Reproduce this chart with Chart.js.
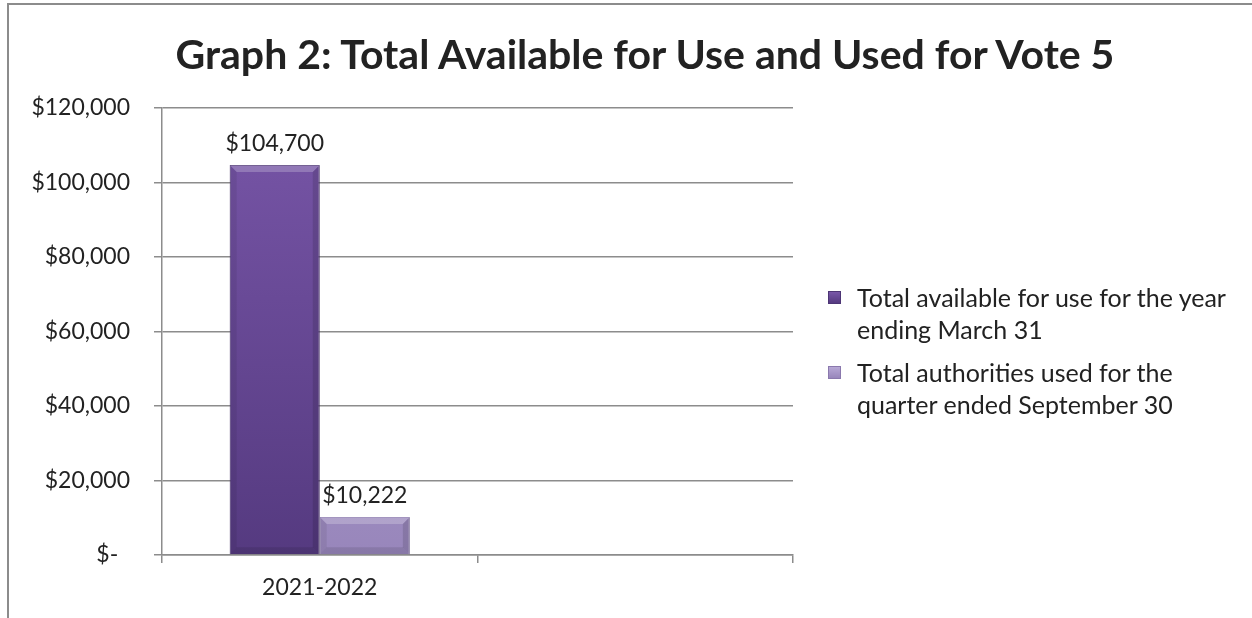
<!DOCTYPE html>
<html>
<head>
<meta charset="utf-8">
<script src="https://cdn.jsdelivr.net/npm/chart.js@4.4.0/dist/chart.umd.min.js"></script>
<style>
  html, body { margin: 0; padding: 0; background: #ffffff; }
  #wrap { position: relative; width: 1252px; height: 618px; overflow: hidden;
          font-family: Lato, "Open Sans", sans-serif; color: #222222; }
  #frame { position: absolute; left: 7px; top: 3px; right: -10px; bottom: -10px;
           border-left: 2px solid #8c8c8c; border-top: 2px solid #8c8c8c; }
  #chartBox { position: absolute; left: 0; top: 0; width: 1252px; height: 618px; }
  #title { position: absolute; left: 0; width: 1290px; top: 29px; text-align: center;
           font-weight: bold; font-size: 41px; line-height: 50px; color: #222222; white-space: nowrap; }
  #legend { position: absolute; left: 828px; top: 281px; width: 424px; }
  .item { position: relative; padding-left: 29px; font-size: 25px; line-height: 32px; margin-bottom: 11px; white-space: nowrap; }
  .swatch { position: absolute; left: 0; top: 10px; width: 13px; height: 13px; box-sizing: border-box; }
</style>
</head>
<body>
<div id="wrap">
  <div id="frame"></div>
  <div id="chartBox"><canvas id="c" width="1252" height="618"></canvas></div>
  <div id="title"></div>
  <div id="legend"></div>
</div>
<script>
const chartTitle = 'Graph 2: Total Available for Use and Used for Vote 5';
const categories = ['2021-2022', ''];
const seriesNames = [
  ['Total available for use for the year', 'ending March 31'],
  ['Total authorities used for the', 'quarter ended September 30']
];
const availableValues = [104700, null];
const usedValues = [10222, null];
const yTicks = { min: 0, max: 120000, step: 20000 };
const seriesColors = [
  { top: '#7856a8', bottom: '#553a80', border: '#4d3575' },
  { top: '#b7a8d6', bottom: '#9886bb', border: '#8a78ad' }
];

document.getElementById('title').textContent = chartTitle;

function money(v) {
  if (v === 0) return '$-  ';
  return '$' + Number(v).toLocaleString('en-US');
}

function barFill(idx) {
  return function (ctx) {
    const chart = ctx.chart;
    const area = chart.chartArea;
    if (!area) return seriesColors[idx].top;
    const el = ctx.element;
    let top = area.top, bottom = area.bottom;
    if (el && typeof el.y === 'number' && typeof el.base === 'number') { top = el.y; bottom = el.base; }
    if (!(bottom > top)) return seriesColors[idx].top;
    const g = chart.ctx.createLinearGradient(0, top, 0, bottom);
    g.addColorStop(0, seriesColors[idx].top);
    g.addColorStop(1, seriesColors[idx].bottom);
    return g;
  };
}

// subtle bevel shading on each bar, derived from the bar elements
const bevel = {
  id: 'bevel',
  afterDatasetsDraw(chart) {
    const ctx = chart.ctx;
    ctx.save();
    chart.data.datasets.forEach((ds, di) => {
      const meta = chart.getDatasetMeta(di);
      meta.data.forEach((bar, i) => {
        if (ds.data[i] === null || ds.data[i] === undefined) return;
        const p = bar.getProps(['x', 'y', 'base', 'width'], true);
        const l = p.x - p.width / 2, r = p.x + p.width / 2, t = p.y, b = p.base;
        const d = Math.min(7, (b - t) / 3);
        // top facet
        ctx.fillStyle = 'rgba(255,255,255,0.22)';
        ctx.beginPath(); ctx.moveTo(l, t); ctx.lineTo(r, t); ctx.lineTo(r - d, t + d); ctx.lineTo(l + d, t + d); ctx.closePath(); ctx.fill();
        // left facet
        ctx.fillStyle = 'rgba(0,0,0,0.07)';
        ctx.beginPath(); ctx.moveTo(l, t); ctx.lineTo(l + d, t + d); ctx.lineTo(l + d, b - d); ctx.lineTo(l, b); ctx.closePath(); ctx.fill();
        // right facet
        ctx.fillStyle = 'rgba(0,0,0,0.12)';
        ctx.beginPath(); ctx.moveTo(r, t); ctx.lineTo(r - d, t + d); ctx.lineTo(r - d, b - d); ctx.lineTo(r, b); ctx.closePath(); ctx.fill();
        // bottom facet
        ctx.fillStyle = 'rgba(0,0,0,0.10)';
        ctx.beginPath(); ctx.moveTo(l, b); ctx.lineTo(l + d, b - d); ctx.lineTo(r - d, b - d); ctx.lineTo(r, b); ctx.closePath(); ctx.fill();
      });
    });
    ctx.restore();
  }
};

const valueLabels = {
  id: 'valueLabels',
  afterDatasetsDraw(chart) {
    const ctx = chart.ctx;
    ctx.save();
    ctx.font = '23px Lato, "Open Sans", sans-serif';
    ctx.fillStyle = '#222222';
    ctx.textAlign = 'center';
    ctx.textBaseline = 'bottom';
    chart.data.datasets.forEach((ds, di) => {
      const meta = chart.getDatasetMeta(di);
      meta.data.forEach((bar, i) => {
        const v = ds.data[i];
        if (v === null || v === undefined) return;
        ctx.fillText(money(v), bar.x, bar.y - 10);
      });
    });
    ctx.restore();
  }
};

const gridColor = '#8c8c8c';

new Chart(document.getElementById('c'), {
  type: 'bar',
  data: {
    labels: categories,
    datasets: [
      { label: seriesNames[0].join(' '), data: availableValues, backgroundColor: barFill(0),
        borderColor: seriesColors[0].border, borderWidth: 1 },
      { label: seriesNames[1].join(' '), data: usedValues, backgroundColor: barFill(1),
        borderColor: seriesColors[1].border, borderWidth: 1 }
    ]
  },
  options: {
    responsive: false,
    animation: false,
    devicePixelRatio: 1,
    layout: { padding: { left: 0, top: 108, right: 459, bottom: 0 } },
    datasets: { bar: { categoryPercentage: 0.571, barPercentage: 1.0 } },
    plugins: { legend: { display: false }, title: { display: false }, tooltip: { enabled: false } },
    scales: {
      x: {
        grid: { display: true, drawOnChartArea: false, drawTicks: true, tickLength: 8, color: gridColor, lineWidth: 1.5 },
        border: { display: true, color: gridColor, width: 1.5 },
        ticks: { color: '#222222', font: { family: 'Lato, "Open Sans", sans-serif', size: 23 }, padding: 11, maxRotation: 0 },
        afterFit(scale) { scale.height = 63; }
      },
      y: {
        min: yTicks.min, max: yTicks.max,
        grid: { color: gridColor, lineWidth: 1.5, drawTicks: true, tickLength: 8 },
        border: { display: true, color: gridColor, width: 1.5 },
        ticks: { stepSize: yTicks.step, color: '#222222', padding: 24,
                 font: { family: 'Lato, "Open Sans", sans-serif', size: 23 },
                 callback: (v) => money(v) },
        afterFit(scale) { scale.width = 162; }
      }
    }
  },
  plugins: [bevel, valueLabels]
});

// HTML legend built from the series names and colours
const legend = document.getElementById('legend');
seriesNames.forEach((lines, i) => {
  const item = document.createElement('div');
  item.className = 'item';
  const sw = document.createElement('div');
  sw.className = 'swatch';
  sw.style.background = 'linear-gradient(' + seriesColors[i].top + ',' + seriesColors[i].bottom + ')';
  sw.style.border = '1px solid ' + seriesColors[i].border;
  item.appendChild(sw);
  lines.forEach((t, k) => {
    if (k) item.appendChild(document.createElement('br'));
    item.appendChild(document.createTextNode(t));
  });
  legend.appendChild(item);
});
</script>
</body>
</html>
